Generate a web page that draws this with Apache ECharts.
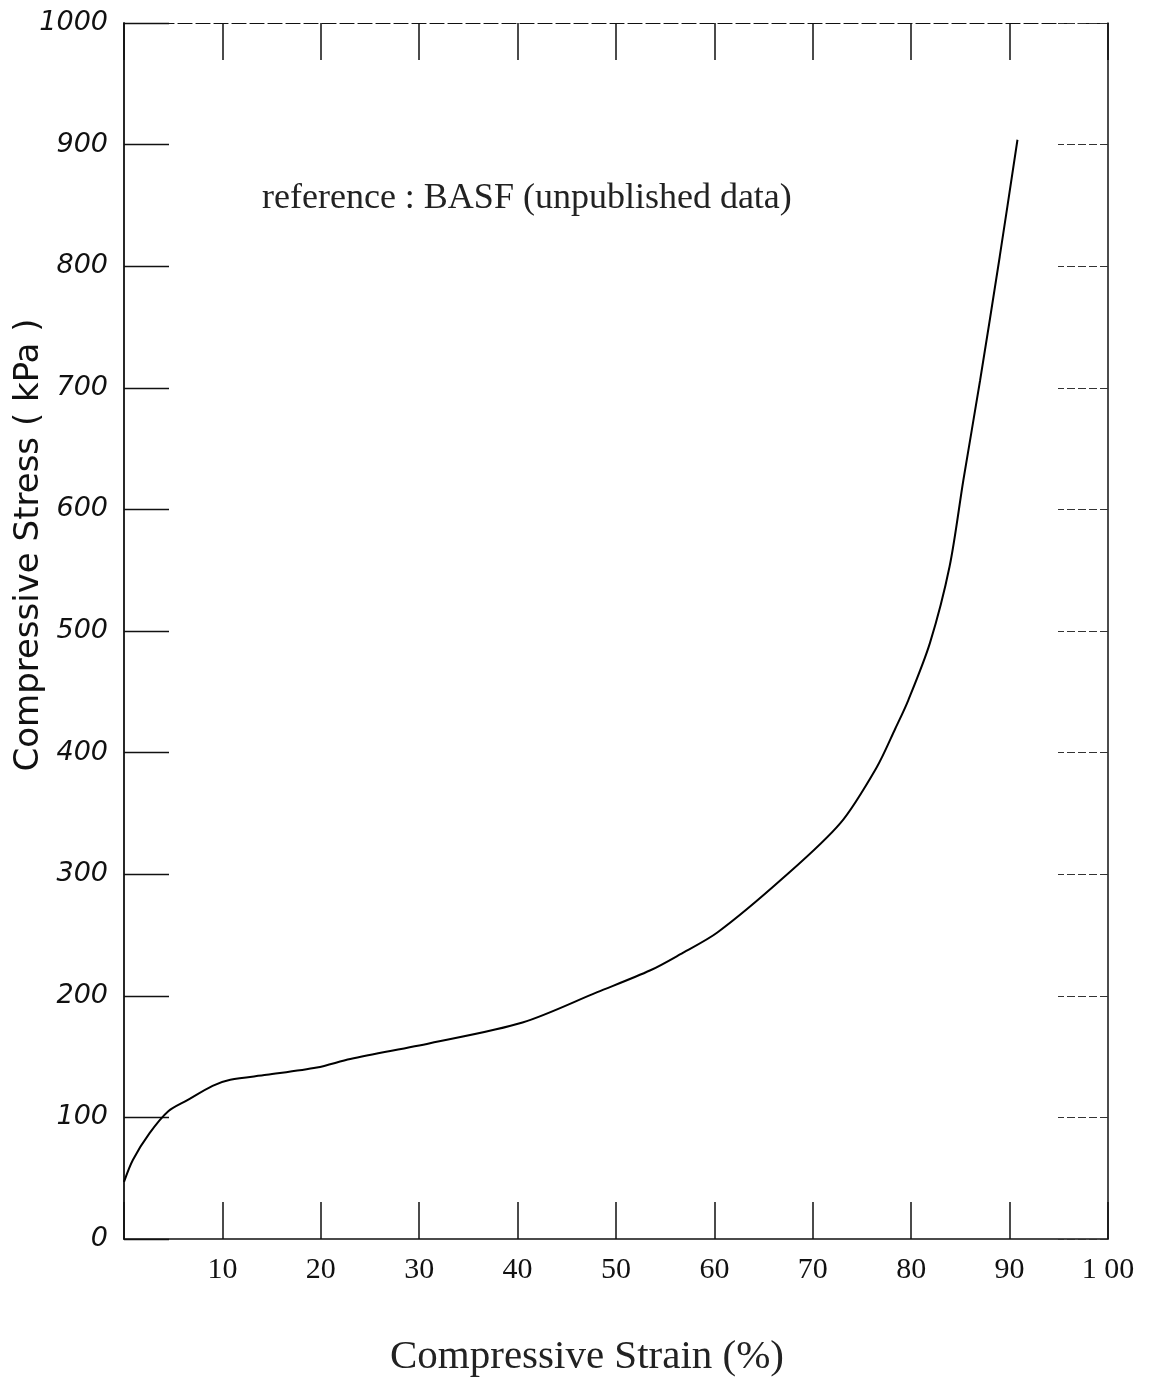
<!DOCTYPE html>
<html>
<head>
<meta charset="utf-8">
<script src="https://cdn.jsdelivr.net/npm/echarts@6/dist/echarts.min.js"></script>
<style>
  html, body { margin: 0; padding: 0; background: #fff; }
  #chart { width: 1150px; height: 1398px; }
</style>
</head>
<body>
<div id="chart"></div>
<script>
// strain (%)
const strain = [0, 0.9, 2.6, 4.5, 6.4, 9.0, 10.8, 14.5, 19.6, 23.0, 31.1, 40.5, 48.1, 53.5, 56.5, 60.3, 67.0, 72.8, 76.5, 78.4, 79.7, 81.9, 83.9, 85.3, 87.0, 89.0, 90.8]
// compressive stress (kPa)
const stress = [47, 65, 87, 105, 114, 126, 131, 135, 141, 148, 161, 178, 203, 221, 234, 252, 297, 342, 388, 420, 443, 490, 553, 624, 706, 808, 904]

const xLabels = { 10: '10', 20: '20', 30: '30', 40: '40', 50: '50', 60: '60', 70: '70', 80: '80', 90: '90', 100: '1 00' }

var chartDom = document.getElementById('chart')
var myChart = echarts.init(chartDom)

var lineCol = '#111'

var option = {
  backgroundColor: '#fff',
  animation: false,
  grid: { left: 124, right: 42, top: 23, bottom: 159, outerBoundsMode: 'none', containLabel: false },
  xAxis: [
    {
      type: 'value',
      position: 'bottom',
      min: 0,
      max: 100,
      interval: 10,
      axisLine: { show: true, onZero: false, lineStyle: { color: lineCol, width: 1.5 } },
      axisTick: { show: true, inside: true, length: 37, lineStyle: { color: lineCol, width: 1.5 } },
      axisLabel: {
        margin: 16,
        fontFamily: 'Liberation Serif',
        fontSize: 30,
        color: '#111',
        formatter: function (v) { return xLabels[v] || '' },
      },
      splitLine: { show: false },
    },
    {
      type: 'value',
      position: 'top',
      min: 0,
      max: 100,
      interval: 10,
      axisLine: { show: true, onZero: false, lineStyle: { color: lineCol, width: 1.2, type: [14, 4] } },
      axisTick: { show: true, inside: true, length: 37, lineStyle: { color: lineCol, width: 1.5 } },
      axisLabel: { show: false },
      splitLine: { show: false },
    },
  ],
  yAxis: [
    {
      type: 'value',
      position: 'left',
      min: 0,
      max: 1000,
      interval: 100,
      axisLine: { show: true, onZero: false, lineStyle: { color: lineCol, width: 1.8 } },
      axisTick: { show: true, inside: true, length: 45, lineStyle: { color: lineCol, width: 1.3 } },
      axisLabel: {
        margin: 16,
        fontFamily: 'DejaVu Sans',
        fontStyle: 'italic',
        fontSize: 27,
        color: '#111',
        formatter: function (v) { return String(v) },
      },
      splitLine: { show: false },
    },
    {
      type: 'value',
      position: 'right',
      min: 0,
      max: 1000,
      interval: 100,
      axisLine: { show: true, onZero: false, lineStyle: { color: lineCol, width: 1.5 } },
      axisTick: { show: true, inside: true, length: 50, lineStyle: { color: '#333', width: 1.2, type: [8, 3] } },
      axisLabel: { show: false },
      splitLine: { show: false },
    },
  ],
  graphic: [
    {
      type: 'text',
      left: 262,
      top: 181,
      style: {
        text: 'reference : BASF (unpublished data)',
        font: '36px "Liberation Serif"',
        fill: '#222',
      },
    },
    {
      type: 'text',
      x: 587,
      y: 1357,
      style: {
        text: 'Compressive Strain (%)',
        font: '41px "Liberation Serif"',
        fill: '#222',
        align: 'center',
        verticalAlign: 'middle',
      },
    },
    {
      type: 'text',
      x: 29,
      y: 545,
      rotation: Math.PI / 2,
      style: {
        text: 'Compressive Stress ( kPa )',
        font: '34px "DejaVu Sans"',
        fill: '#111',
        align: 'center',
        verticalAlign: 'middle',
      },
    },
  ],
  series: [
    {
      type: 'line',
      xAxisIndex: 0,
      yAxisIndex: 0,
      data: strain.map(function (s, i) { return [s, stress[i]] }),
      smooth: 0.3,
      showSymbol: false,
      lineStyle: { color: '#000', width: 2 },
    },
  ],
}

option && myChart.setOption(option)
</script>
</body>
</html>
